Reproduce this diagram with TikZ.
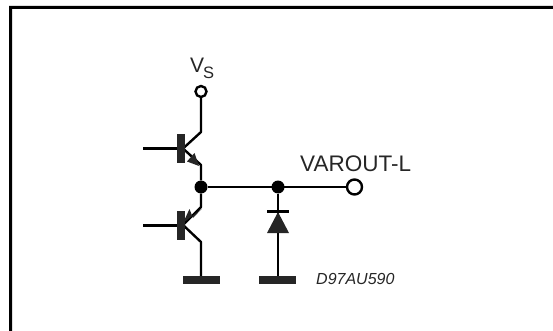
\documentclass[tikz,border=0pt]{standalone}
\usepackage{fontspec}
\setmainfont{Liberation Sans}
\tikzset{
  wire/.style={line width=2.4pt,line join=round},
  bar/.style={fill=black!85,draw=none},
  dot/.style={circle,fill=black,draw=none,inner sep=0pt,minimum size=13pt},
  port/.style={circle,fill=white,draw=black,line width=2.4pt,inner sep=0pt},
  lab/.style={inner sep=0pt,anchor=base west,text=black!85}
}
\begin{document}
\begin{tikzpicture}[x=1pt,y=-1pt]
\useasboundingbox (0,0) rectangle (553,331);
% frame
\fill[black] (9,331) -- (9,6) -- (553,6) -- (553,9) -- (12,9) -- (12,331) -- cycle;
% named points
\node[port,minimum size=11pt] (vs) at (201,91.5) {};
\node[port,minimum size=15pt] (out) at (354.5,187) {};
\node[dot] (j1) at (201,187) {};
\node[dot] (j2) at (278,187) {};
\coordinate (b1) at (143,148.5);
\coordinate (b1e) at (181,148.5);
\coordinate (c1) at (201,132);
\coordinate (e1) at (201,165);
\coordinate (q1) at (183,148.5);
\coordinate (b2) at (143,225.5);
\coordinate (b2e) at (181,225.5);
\coordinate (e2) at (201,207);
\coordinate (c2) at (201,242);
\coordinate (q2) at (183,225);
\coordinate (g1) at (201,279);
\coordinate (g2) at (278,279);
% wires
\draw[wire] (vs) -- (c1) -- (q1);
\draw[wire] (q1) -- (e1) -- (j1);
\draw[wire] (j1) -- (e2) -- (q2);
\draw[wire] (q2) -- (c2) -- (g1);
\draw[wire] (b1) -- (b1e);
\draw[wire] (b2) -- (b2e);
\draw[wire] (j1) -- (out);
\draw[wire] (j2) -- (g2);
% transistor bars
\fill[bar] (177,134) rectangle (184.5,163);
\fill[bar] (177,210.5) rectangle (184.5,239.5);
% emitter arrows
\fill[black!85] (199,166) -- (187,161.5) -- (194.5,153) -- cycle;
\fill[black!85] (183,223) -- (202,208.5) -- (193,218) -- (189.5,209) -- cycle;
% diode
\fill[black!85] (278,212) -- (289,233) -- (267,233) -- cycle;
\draw[line width=2.2pt] (267,211.5) -- (289,211.5);
% ground bars
\fill[bar] (183,276) rectangle (220,283.7);
\fill[bar] (259,276) rectangle (296,283.7);
% labels
\node[lab,font=\fontsize{21}{21}\selectfont] (tv) at (190,73) {V};
\node[lab,font=\fontsize{16.5}{16.5}\selectfont] (ts) at (203,79) {S};
\node[lab,font=\fontsize{22.5}{22.5}\selectfont] (tout) at (300,171) {VAROUT-L};
\node[lab,font=\fontsize{16}{16}\selectfont\itshape] (tid) at (316,284) {D97AU590};
\end{tikzpicture}
\end{document}
